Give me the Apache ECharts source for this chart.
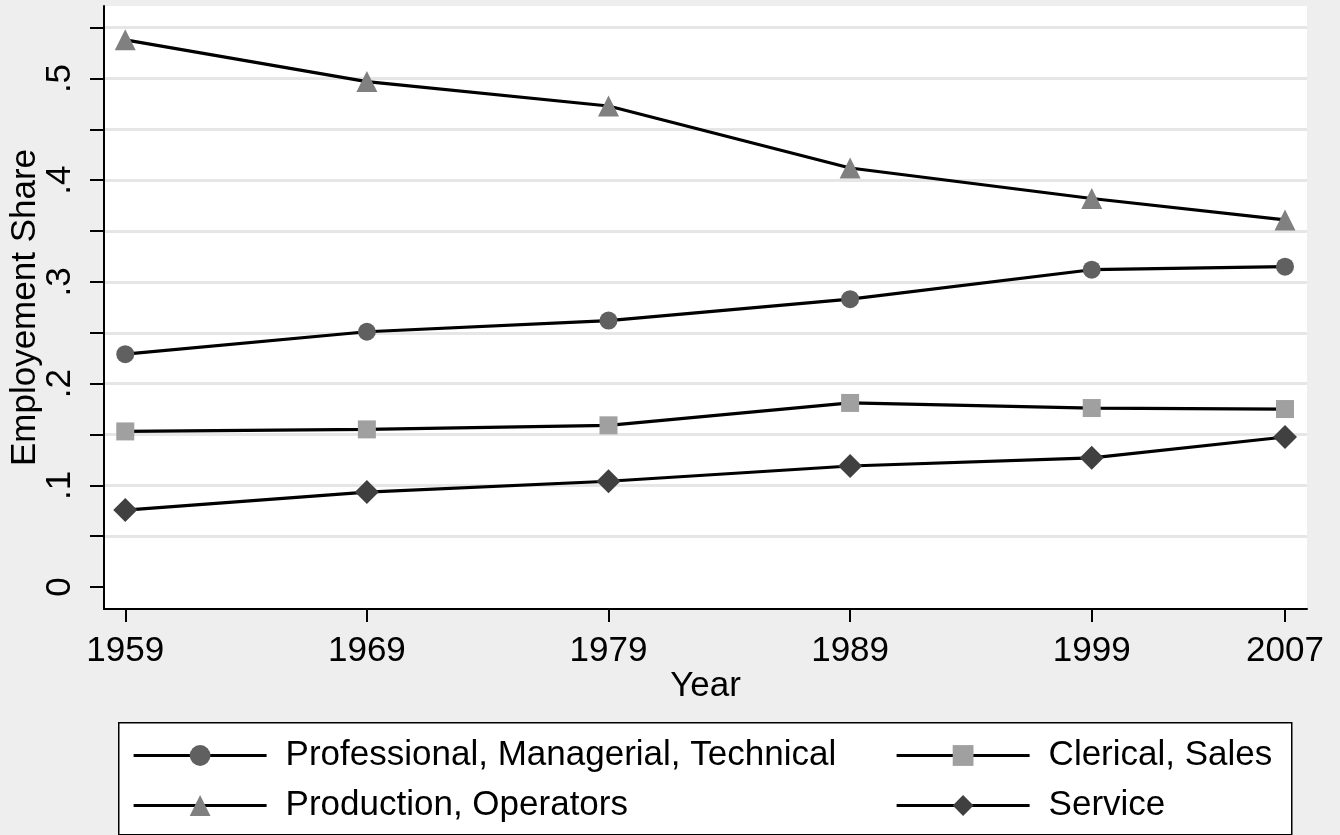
<!DOCTYPE html>
<html>
<head>
<meta charset="utf-8">
<script src="https://cdn.jsdelivr.net/npm/echarts@6/dist/echarts.min.js"></script>
<style>
html,body{margin:0;padding:0;background:#eeeeee;}
#chart{width:1340px;height:835px;}
</style>
</head>
<body>
<div id="chart"></div>
<script>
const years = [1959, 1969, 1979, 1989, 1999, 2007];
const yTicks = [0, 0.05, 0.1, 0.15, 0.2, 0.25, 0.3, 0.35, 0.4, 0.45, 0.5, 0.55];
const yLabels = [0, 0.1, 0.2, 0.3, 0.4, 0.5];
const professional = [0.229, 0.251, 0.262, 0.283, 0.312, 0.315];
const production = [0.538, 0.497, 0.473, 0.412, 0.382, 0.361];
const clerical = [0.153, 0.155, 0.159, 0.181, 0.176, 0.175];
const service = [0.0757, 0.0934, 0.104, 0.119, 0.127, 0.1475];
const names = ['Professional, Managerial, Technical', 'Clerical, Sales', 'Production, Operators', 'Service'];

const FONT = '"Liberation Sans", Arial, Helvetica, sans-serif';
const FS = 35;

function pairs(vals) { return years.map((y, i) => [y, vals[i]]); }

function mkSeries(name, vals, symbol, size, color) {
  return {
    name: name, type: 'line', data: pairs(vals),
    symbol: symbol, symbolSize: size, showSymbol: true,
    color: color,
    itemStyle: { color: color, borderWidth: 0 },
    lineStyle: { color: '#000', width: 3.2 },
    emphasis: { disabled: true },
    animation: false
  };
}

const legendBase = {
  orient: 'vertical', top: 738,
  itemWidth: 133, itemHeight: 26, itemGap: 15, padding: 0, z: 5,
  lineStyle: { color: '#000', width: 3.2 },
  textStyle: { color: '#000', fontSize: FS, fontFamily: FONT, lineHeight: 35, padding: [0, 0, 0, 14] },
  selectedMode: false
};

const chart = echarts.init(document.getElementById('chart'), null, { renderer: 'canvas' });
chart.setOption({
  backgroundColor: '#eeeeee',
  animation: false,
  textStyle: { fontFamily: FONT },
  grid: { left: 104, right: 33, top: 6, bottom: 226, show: true, backgroundColor: '#ffffff', borderWidth: 0, containLabel: false, outerBoundsMode: 'none' },
  xAxis: {
    type: 'value', min: 1958.12, max: 2007.91,
    name: 'Year', nameLocation: 'middle', nameGap: 60, nameMoveOverlap: false,
    nameTextStyle: { color: '#000', fontSize: FS, fontFamily: FONT },
    axisLine: { show: true, onZero: false, lineStyle: { color: '#000', width: 2 } },
    axisTick: { show: true, length: 13, lineStyle: { color: '#000', width: 2 }, customValues: years },
    axisLabel: { color: '#000', fontSize: FS, fontFamily: FONT, margin: 25, customValues: years, formatter: v => String(v) },
    splitLine: { show: false }
  },
  yAxis: {
    type: 'value', min: -0.0216, max: 0.5713,
    name: 'Employement Share', nameLocation: 'middle', nameGap: 61, nameRotate: 90, nameMoveOverlap: false,
    nameTextStyle: { color: '#000', fontSize: FS, fontFamily: FONT },
    axisLine: { show: true, onZero: false, lineStyle: { color: '#000', width: 2 } },
    axisTick: { show: true, length: 14, lineStyle: { color: '#000', width: 2 }, customValues: yTicks },
    axisLabel: {
      color: '#000', fontSize: FS, fontFamily: FONT, margin: 26, rotate: 90,
      customValues: yLabels,
      formatter: v => { if (Math.abs(v) < 1e-9) return '0'; return '.' + Math.round(v * 10); }
    },
    splitLine: { show: true, showMinLine: false, lineStyle: { color: '#e6e6e6', width: 3 } }
  },
  graphic: [{
    type: 'rect', left: 118, top: 722, z: 0,
    shape: { width: 1173, height: 112 },
    style: { fill: '#ffffff', stroke: '#000', lineWidth: 1.5 }
  }],
  legend: [
    Object.assign({}, legendBase, { data: [names[0], names[2]], left: 132 }),
    Object.assign({}, legendBase, { data: [names[1], names[3]], left: 895 })
  ],
  series: [
    mkSeries(names[0], professional, 'circle', 18, '#606060'),
    mkSeries(names[1], clerical, 'rect', 18, '#a0a0a0'),
    mkSeries(names[2], production, 'triangle', 21, '#808080'),
    mkSeries(names[3], service, 'diamond', 24, '#404040')
  ]
});
</script>
</body>
</html>
